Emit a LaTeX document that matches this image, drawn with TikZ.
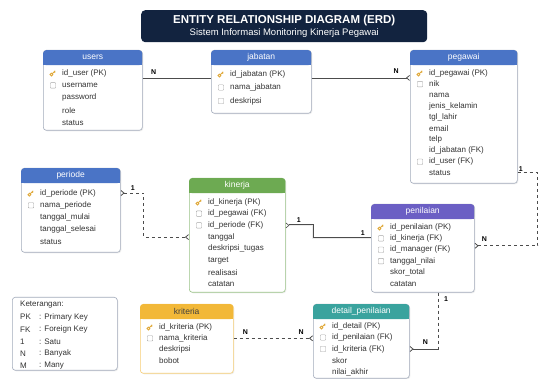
\documentclass[tikz,border=0pt]{standalone}
\usepackage{fontspec}
\setmainfont{Liberation Sans}
\usetikzlibrary{arrows.meta,shadows,positioning}

\definecolor{navy}{HTML}{12233F}
\definecolor{hblue}{HTML}{4A74C6}
\definecolor{hgreen}{HTML}{6DAA52}
\definecolor{hpurple}{HTML}{6B5FC4}
\definecolor{hyellow}{HTML}{F2B838}
\definecolor{hteal}{HTML}{3AA39E}
\definecolor{keygold}{HTML}{E0A93A}
\definecolor{edgegray}{HTML}{A3ABBB}

\begin{document}
\begin{tikzpicture}[x=1pt, y=-1pt,
    tbl/.style={draw=edgegray, fill=white, rounded corners=3pt, anchor=north west,
        line width=0.6pt, drop shadow={opacity=0.15, shadow xshift=1pt, shadow yshift=-1pt}},
    hdr/.style={rounded corners=3pt, anchor=north west, minimum height=15pt,
        text=white, inner sep=0pt, font=\fontsize{8.5}{9}\selectfont},
    row/.style={anchor=west, inner sep=0pt, text=black!80, font=\fontsize{8}{9}\selectfont},
    fkbox/.style={draw=gray!70, rounded corners=0.8pt, minimum size=5.5pt, inner sep=0pt},
    lbl/.style={inner sep=1pt, font=\fontsize{7}{8}\selectfont\bfseries},
    rel/.style={draw=black!70, line width=0.8pt},
    many/.style={-{Straight Barb[reversed, length=3pt, width=5pt]}},
    pkkey/.pic={\draw[keygold, line width=0.9pt] (-1.6,1.6) circle (1.4pt) (-0.6,0.6) -- (2.2,-2.2) (1.2,-1.2) -- (2,-0.4);}
]
\useasboundingbox (0,0) rectangle (560,379);

% Title
\node[fill=navy, rounded corners=4pt, minimum width=286pt, minimum height=32pt,
    anchor=north west, align=center, text=white, inner sep=1pt] (title) at (141,10)
    {\fontsize{11.5}{12}\selectfont\bfseries ENTITY RELATIONSHIP DIAGRAM (ERD)\\[0.5pt]
     \fontsize{9.5}{10}\selectfont Sistem Informasi Monitoring Kinerja Pegawai};

% users
\node[tbl, minimum width=99pt, minimum height=80pt] (users) at (43,50) {};
\node[hdr, fill=hblue, minimum width=99pt] (users-h) at (43,50) {users};
\foreach \f [count=\i] in {id\_user (PK), username, password, role, status}
{
    \node[row] (users-\i) at (62, 60.6+\i*12.4) {\f};
}

% jabatan
\node[tbl, minimum width=100pt, minimum height=63pt] (jabatan) at (211,50) {};
\node[hdr, fill=hblue, minimum width=100pt] (jabatan-h) at (211,50) {jabatan};
\foreach \f [count=\i] in {id\_jabatan (PK), nama\_jabatan, deskripsi}
{
    \node[row] (jabatan-\i) at (230, 60.5+\i*13.5) {\f};
}

% pegawai
\node[tbl, minimum width=107pt, minimum height=133pt] (pegawai) at (410,50) {};
\node[hdr, fill=hblue, minimum width=107pt] (pegawai-h) at (410,50) {pegawai};
\foreach \f [count=\i] in {id\_pegawai (PK), nik, nama, jenis\_kelamin, tgl\_lahir,
    email, telp, id\_jabatan (FK), id\_user (FK), status}
{
    \node[row] (pegawai-\i) at (429, 61.9+\i*11.1) {\f};
}

% periode
\node[tbl, minimum width=99pt, minimum height=84pt] (periode) at (21,168) {};
\node[hdr, fill=hblue, minimum width=99pt] (periode-h) at (21,168) {periode};
\foreach \f [count=\i] in {id\_periode (PK), nama\_periode, tanggal\_mulai,
    tanggal\_selesai, status}
{
    \node[row] (periode-\i) at (40, 180.8+\i*12.25) {\f};
}

% kinerja
\node[tbl, draw=hgreen!70, minimum width=96pt, minimum height=114pt] (kinerja) at (189,178) {};
\node[hdr, fill=hgreen, minimum width=96pt] (kinerja-h) at (189,178) {kinerja};
\foreach \f [count=\i] in {id\_kinerja (PK), id\_pegawai (FK), id\_periode (FK), tanggal,
    deskripsi\_tugas, target, realisasi, catatan}
{
    \node[row] (kinerja-\i) at (208, 190.3+\i*11.7) {\f};
}

% penilaian
\node[tbl, minimum width=103pt, minimum height=88pt] (penilaian) at (371,204) {};
\node[hdr, fill=hpurple, minimum width=103pt] (penilaian-h) at (371,204) {penilaian};
\foreach \f [count=\i] in {id\_penilaian (PK), id\_kinerja (FK), id\_manager (FK),
    tanggal\_nilai, skor\_total, catatan}
{
    \node[row] (penilaian-\i) at (390, 215.6+\i*11.4) {\f};
}

% kriteria
\node[tbl, draw=hyellow!70, minimum width=93pt, minimum height=69pt] (kriteria) at (140,304) {};
\node[hdr, fill=hyellow, text=black!75, minimum width=93pt] (kriteria-h) at (140,304) {kriteria};
\foreach \f [count=\i] in {id\_kriteria (PK), nama\_kriteria, deskripsi, bobot}
{
    \node[row] (kriteria-\i) at (159, 315.7+\i*11.3) {\f};
}

% detail_penilaian
\node[tbl, minimum width=96pt, minimum height=74pt] (detail) at (313,304) {};
\node[hdr, fill=hteal, minimum width=96pt] (detail-h) at (313,304) {detail\_penilaian};
\foreach \f [count=\i] in {id\_detail (PK), id\_penilaian (FK), id\_kriteria (FK),
    skor, nilai\_akhir}
{
    \node[row] (detail-\i) at (332, 314.5+\i*11.5) {\f};
}

% Square header bottoms
\foreach \t/\c in {users/hblue, jabatan/hblue, pegawai/hblue, periode/hblue,
    kinerja/hgreen, penilaian/hpurple, kriteria/hyellow, detail/hteal}
{
    \fill[\c] ([yshift=4pt]\t-h.south west) rectangle (\t-h.south east);
}

% Key icons
\foreach \t in {users, jabatan, pegawai, periode, kinerja, penilaian, kriteria, detail}
{
    \pic at ([xshift=-9pt]\t-1.west) {pkkey};
}

% Field boxes
\foreach \t/\r in {users/2, jabatan/2, jabatan/3, pegawai/2, pegawai/9, periode/2,
    kinerja/2, kinerja/3, penilaian/2, penilaian/3, penilaian/4, kriteria/2,
    detail/2, detail/3}
{
    \node[fkbox] (\t-b\r) at ([xshift=-9pt]\t-\r.west) {};
}

% Legend
\node[tbl, minimum width=105pt, minimum height=73pt] (legend) at (12,297) {};
\node[row] (legend-t) at (20,305) {Keterangan:};
\foreach \k/\v [count=\i] in {PK/Primary Key, FK/Foreign Key, 1/Satu, N/Banyak, M/Many}
{
    \node[row] (legend-k\i) at (20, 305+\i*12.2) {\k};
    \node[row] (legend-v\i) at (39, 305+\i*12.2) {: \v};
}

% users - jabatan
\draw[rel] (users.east |- jabatan-1.south) -- (jabatan.west |- jabatan-1.south)
    node[lbl, pos=0.16, above=2pt] (n-users) {N};

% jabatan - pegawai
\draw[rel, many] (jabatan.east |- jabatan-1.south)
    -- (pegawai.west |- jabatan-1.south)
    node[lbl, pos=0.86, above=3pt] (n-pegawai) {N};

% pegawai - penilaian
\draw[rel, dashed, many] (pegawai.east |- pegawai-10) -- ++(20,0)
    |- ([yshift=4pt]penilaian.east |- penilaian-3);
\node[lbl, above right] (one-pegawai) at (pegawai.east |- pegawai-10) {1};
\node[lbl, above right=3pt and 6pt] (n-penilaian) at ([yshift=4pt]penilaian.east |- penilaian-3) {N};

% periode - kinerja
\draw[rel, dashed, {Straight Barb[reversed, length=3pt, width=5pt]}-{Straight Barb[reversed, length=3pt, width=5pt]}]
    (periode.east |- periode-1) -- ++(23,0) |- (kinerja.west |- kinerja-4);
\node[lbl, above right=1pt and 9pt] (one-periode) at (periode.east |- periode-1) {1};

% kinerja - penilaian
\draw[rel, double=white!85!gray, double distance=0.7pt, line width=0.6pt,
    {Straight Barb[reversed, length=3pt, width=5pt]}-] (kinerja.east |- kinerja-3)
    -- ++(27,0) |- (penilaian.west |- penilaian-2);
\node[lbl, above right=2pt and 10pt] (one-kinerja) at (kinerja.east |- kinerja-3) {1};
\node[lbl, above left=2pt and 5pt] (one-penilaian) at (penilaian.west |- penilaian-2) {1};

% penilaian - detail_penilaian
\coordinate (pd-corner) at ([xshift=16pt]penilaian.south |- detail-3);
\draw[rel, dashed] ([xshift=16pt]penilaian.south) -- (pd-corner);
\draw[rel, many] (pd-corner) -- (detail.east |- detail-3);
\node[lbl, below right=3pt and 4pt] (one-detail) at ([xshift=16pt]penilaian.south) {1};
\node[lbl, above right=3pt and 12pt] (n-detail) at (detail.east |- detail-3) {N};

% kriteria - detail_penilaian
\draw[rel, dashed, many] (kriteria.east |- kriteria-2) -- (detail.west |- kriteria-2);
\node[lbl, above right=3pt and 8pt] (n-kriteria) at (kriteria.east |- kriteria-2) {N};
\node[lbl, above left=3pt and 8pt] (n-detail2) at (detail.west |- kriteria-2) {N};

\end{tikzpicture}
\end{document}
